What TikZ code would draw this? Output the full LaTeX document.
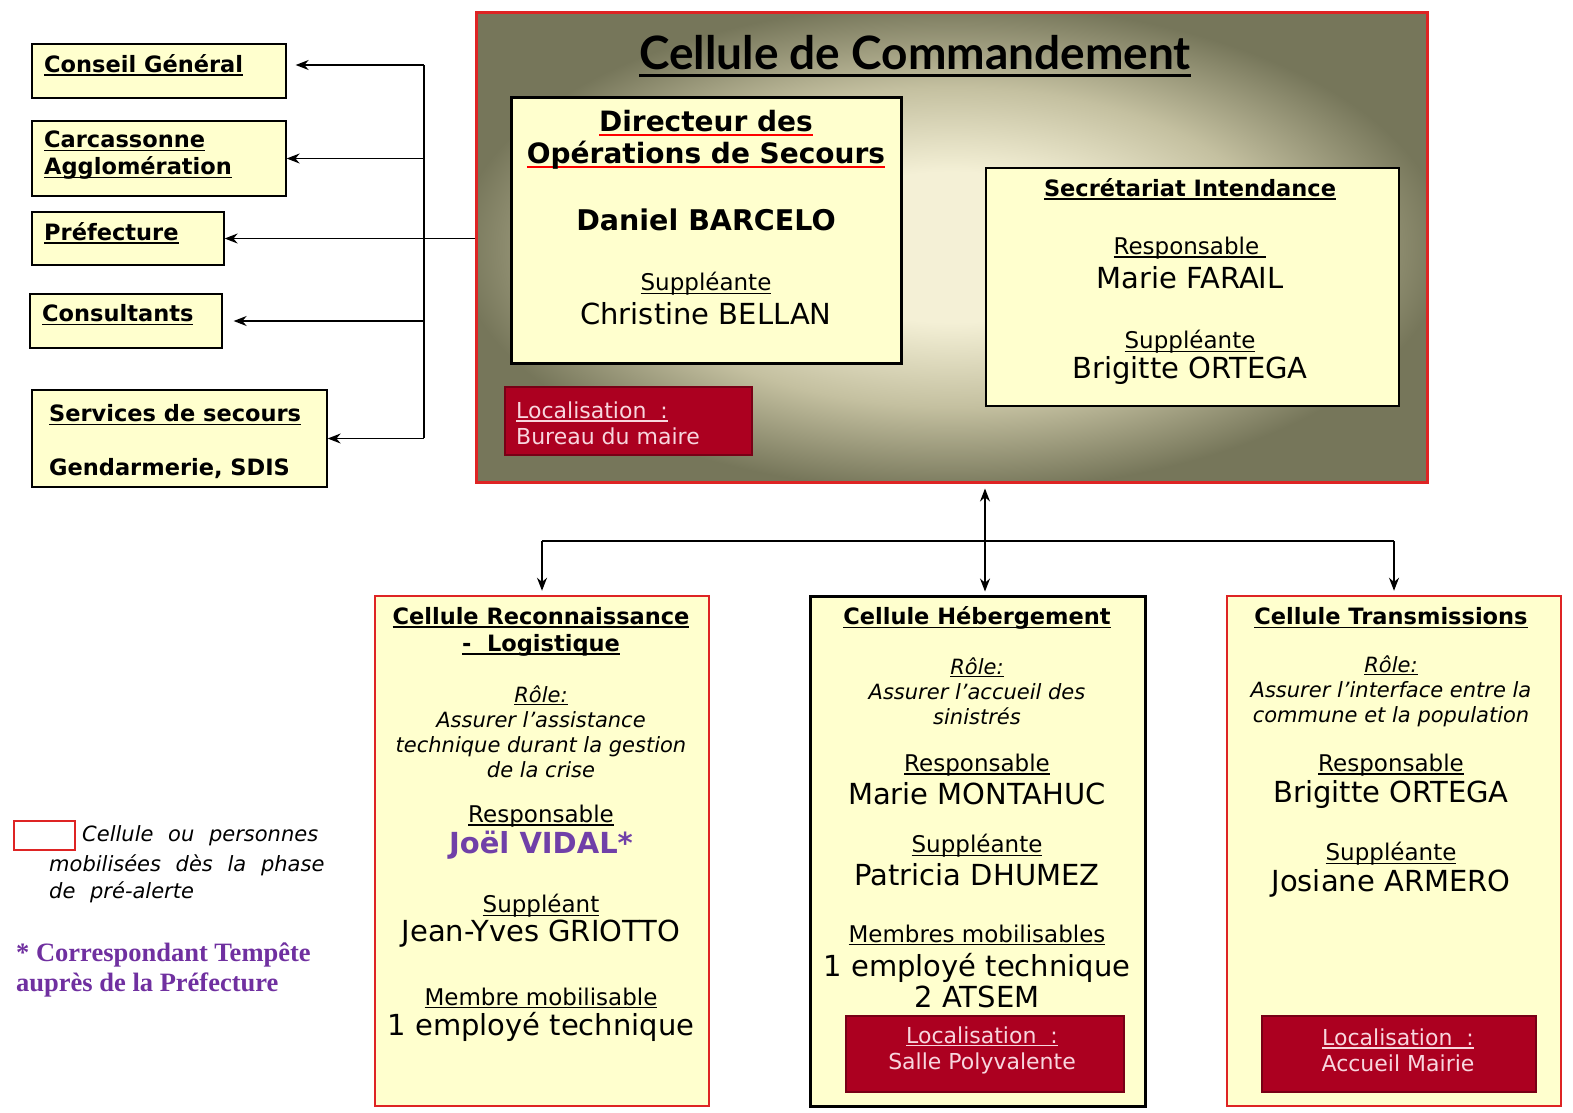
\documentclass[tikz,border=0pt]{standalone}
\usepackage{fontspec}
\setmainfont{DejaVu Sans}
\newfontfamily\titlefont{Lato}
\newfontfamily\notefont{Liberation Serif}
\usepackage{tikz}
\usetikzlibrary{arrows.meta, positioning}

\definecolor{boxyellow}{RGB}{255,255,206}
\definecolor{locred}{RGB}{172,0,32}
\definecolor{locpink}{RGB}{248,214,222}
\definecolor{cellred}{RGB}{222,36,36}
\definecolor{vidalpurple}{RGB}{112,64,168}
\definecolor{notepurple}{RGB}{112,48,160}
\definecolor{cmdouter}{RGB}{118,118,90}
\definecolor{cmdmid}{RGB}{196,192,160}
\definecolor{cmdinner}{RGB}{244,240,214}

\pgfdeclareradialshading{cmdglow}{\pgfpoint{0bp}{0bp}}{color(0bp)=(cmdinner); color(8bp)=(cmdinner); color(17bp)=(cmdmid); color(26bp)=(cmdouter); color(50bp)=(cmdouter)}

\newsavebox\undlbox
\newcommand{\undl}[2][black]{\sbox\undlbox{#2}\rlap{\textcolor{#1}{\rule[-0.15em]{\wd\undlbox}{0.06em}}}\usebox\undlbox}
\newcommand{\redundl}[1]{\sbox\undlbox{#1}\rlap{\textcolor{red}{\rule[-0.17em]{\wd\undlbox}{0.1em}}}\usebox\undlbox}

\newcommand{\fsHead}{\fontsize{22.5}{27}\selectfont\bfseries}
\newcommand{\fsLabel}{\fontsize{23}{27}\selectfont}
\newcommand{\fsName}{\fontsize{29}{31}\selectfont}
\newcommand{\fsRole}{\fontsize{21}{25}\selectfont\itshape}
\newcommand{\fsLoc}{\fontsize{22}{26}\selectfont}
\newcommand{\fsLegend}{\fsRole\spaceskip=.7em\relax}

\tikzset{
  extbox/.style={draw=black, line width=1.3pt, fill=boxyellow},
  cmdcell/.style={draw=cellred, line width=3pt, shade, shading=cmdglow},
  dosbox/.style={draw=black, line width=3pt, fill=boxyellow},
  secbox/.style={draw=black, line width=1.5pt, fill=boxyellow},
  redcell/.style={draw=cellred, line width=2.5pt, fill=boxyellow},
  blackcell/.style={draw=black, line width=3pt, fill=boxyellow},
  locbox/.style={draw=locred!70!black, line width=1.2pt, fill=locred},
  txt/.style={inner sep=0pt, align=center, yshift=-3pt},
  loctxt/.style={txt, text=locpink, font=\fsLoc},
  wire/.style={line width=1.4pt},
}

\begin{document}
\begin{tikzpicture}[x=1pt, y=-1pt, >={Stealth[length=13pt, width=10pt]}]

\useasboundingbox[fill=white] (0,0) rectangle (1573,1112);

% command cell
\node[cmdcell, minimum width=951, minimum height=470] (cmd) at (951.5,247) {};
\node[txt, font=\titlefont\fontsize{46}{50}\selectfont\bfseries] (cmdtitle) at (915,53) {\undl{Cellule de Commandement}};

\node[dosbox, minimum width=390, minimum height=266] (dos) at (706,230) {};
\node[txt, font=\fontsize{28}{32}\selectfont\bfseries] (dostitle) at (706,137) {\redundl{Directeur des}\\\redundl{Opérations de Secours}};
\node[txt, font=\fontsize{28.5}{31}\selectfont\bfseries] (dosname) at (706,217) {Daniel BARCELO};
\node[txt, font=\fsLabel] (dossupp) at (706,281) {\undl{Suppléante}};
\node[txt, font=\fsName] (dossuppname) at (706,311) {Christine BELLAN};

\node[locbox, minimum width=247, minimum height=68] (dosloc) at (628.5,421) {};
\node[loctxt, anchor=west, align=left] (dosloctxt) at (516,420) {\undl[locpink]{Localisation\ \ :}\\Bureau du maire};

\node[secbox, minimum width=413, minimum height=238] (secr) at (1192.5,287) {};
\node[txt, font=\fsHead] (secrtitle) at (1190,186) {\undl{Secrétariat Intendance}};
\node[txt, font=\fsLabel] (secrresp) at (1190,245) {\undl{Responsable\ }};
\node[txt, font=\fsName] (secrname) at (1190,275) {Marie FARAIL};
\node[txt, font=\fsLabel] (secrsupp) at (1190,339) {\undl{Suppléante}};
\node[txt, font=\fsName] (secrsuppname) at (1190,367) {Brigitte ORTEGA};

% outside partners
\node[extbox, minimum width=254, minimum height=54] (conseil) at (159,71) {};
\node[txt, anchor=west, font=\fsHead] (conseiltxt) at (44,62) {\undl{Conseil Général}};
\node[extbox, minimum width=254, minimum height=75] (carca) at (159,158.5) {};
\node[txt, anchor=west, align=left, font=\fsHead] (carcatxt) at (44,152.5) {\undl{Carcassonne}\\\undl{Agglomération}};
\node[extbox, minimum width=192, minimum height=53] (pref) at (128,238.5) {};
\node[txt, anchor=west, font=\fsHead] (preftxt) at (44,230) {\undl{Préfecture}};
\node[extbox, minimum width=192, minimum height=54] (consult) at (126,321) {};
\node[txt, anchor=west, font=\fsHead] (consulttxt) at (42,312) {\undl{Consultants}};
\node[extbox, minimum width=295, minimum height=97] (secours) at (179.5,438.5) {};
\node[txt, anchor=west, font=\fsHead] (secourstxt) at (49,412) {\undl{Services de secours}};
\node[txt, anchor=west, font=\fsHead] (gendtxt) at (49,466) {Gendarmerie, SDIS};

% cells below
\node[redcell, minimum width=334, minimum height=510] (reco) at (542,851) {};
\node[txt, font=\fsHead] (recotitle) at (541,628.5) {\undl{Cellule Reconnaissance}\\\undl{-\ \ Logistique}};
\node[txt, font=\fsRole] (recorole) at (541,728.5) {\undl{Rôle:}\\Assurer l’assistance\\technique durant la gestion\\de la crise};
\node[txt, font=\fsLabel] (recoresp) at (541,813) {\undl{Responsable}};
\node[txt, font=\fsName\bfseries, text=vidalpurple] (reconame) at (541,842) {Joël VIDAL*};
\node[txt, font=\fsLabel] (recosupp) at (541,903) {\undl{Suppléant}};
\node[txt, font=\fsName] (recosuppname) at (541,931) {Jean-Yves GRIOTTO};
\node[txt, font=\fsLabel] (recomemb) at (541,995) {\undl{Membre mobilisable}};
\node[txt, font=\fsName] (recomembname) at (541,1024) {1 employé technique};

\node[blackcell, minimum width=335, minimum height=510] (heberg) at (977.5,851) {};
\node[txt, font=\fsHead] (hebergtitle) at (977,615) {\undl{Cellule Hébergement}};
\node[txt, font=\fsRole] (hebergrole) at (977,688) {\undl{Rôle:}\\Assurer l’accueil des\\sinistrés};
\node[txt, font=\fsLabel] (hebergresp) at (977,762) {\undl{Responsable}};
\node[txt, font=\fsName] (hebergname) at (977,791) {Marie MONTAHUC};
\node[txt, font=\fsLabel] (hebergsupp) at (977,843) {\undl{Suppléante}};
\node[txt, font=\fsName] (hebergsuppname) at (977,872) {Patricia DHUMEZ};
\node[txt, font=\fsLabel] (hebergmemb) at (977,932) {\undl{Membres mobilisables}};
\node[txt, font=\fsName] (hebergmembname) at (977,977.5) {1 employé technique\\2 ATSEM};
\node[locbox, minimum width=278, minimum height=76] (hebergloc) at (985,1054) {};
\node[loctxt] (hebergloctxt) at (982,1047) {\undl[locpink]{Localisation\ \ :}\\Salle Polyvalente};

\node[redcell, minimum width=334, minimum height=510] (trans) at (1394,851) {};
\node[txt, font=\fsHead] (transtitle) at (1391,615) {\undl{Cellule Transmissions}};
\node[txt, font=\fsRole] (transrole) at (1391,688) {\undl{Rôle:}\\Assurer l’interface entre la\\commune et la population};
\node[txt, font=\fsLabel] (transresp) at (1391,762) {\undl{Responsable}};
\node[txt, font=\fsName] (transname) at (1391,791) {Brigitte ORTEGA};
\node[txt, font=\fsLabel] (transsupp) at (1391,851) {\undl{Suppléante}};
\node[txt, font=\fsName] (transsuppname) at (1391,880) {Josiane ARMERO};
\node[locbox, minimum width=274, minimum height=76] (transloc) at (1399,1054) {};
\node[loctxt] (transloctxt) at (1398,1047) {\undl[locpink]{Localisation\ \ :}\\Accueil Mairie};

% legend
\node[draw=cellred, line width=2.5pt, minimum width=61, minimum height=29] (legbox) at (44.5,835.5) {};
\node[txt, anchor=west, font=\fsLegend] (legtxt) at (82,833) {Cellule ou personnes};
\node[txt, anchor=west, align=left, font=\fsLegend] (legtxtb) at (49,875.5) {mobilisées dès la phase\\[2pt]de pré-alerte};
\node[txt, anchor=west, align=left, text=notepurple, font=\notefont\fontsize{26.5}{30}\selectfont\bfseries] (note) at (16,967) {* Correspondant Tempête\\auprès de la Préfecture};

% links to partners
\coordinate (bustop) at (424,65);
\coordinate (busbot) at (424,438);
\draw[wire] (bustop) -- (busbot);
\draw[wire, ->, shorten >=9pt] (bustop) -- ([yshift=6pt]conseil.east);
\draw[wire, ->] (bustop |- carca.east) -- (carca.east);
\draw[wire, ->] (cmd.west |- pref.east) -- (pref.east);
\draw[wire, ->, shorten >=11pt] (bustop |- consult.east) -- (consult.east);
\draw[wire, ->] (bustop |- secours.east) -- (secours.east);

% links to cells
\coordinate (hub) at (985,541);
\draw[wire, <->, shorten <=5pt, shorten >=3pt] (hub |- cmd.south) -- (hub |- heberg.north);
\draw[wire] (reco.north |- hub) -- (trans.north |- hub);
\draw[wire, ->, shorten >=4pt] (reco.north |- hub) -- (reco.north);
\draw[wire, ->, shorten >=4pt] (trans.north |- hub) -- (trans.north);

\end{tikzpicture}
\end{document}
